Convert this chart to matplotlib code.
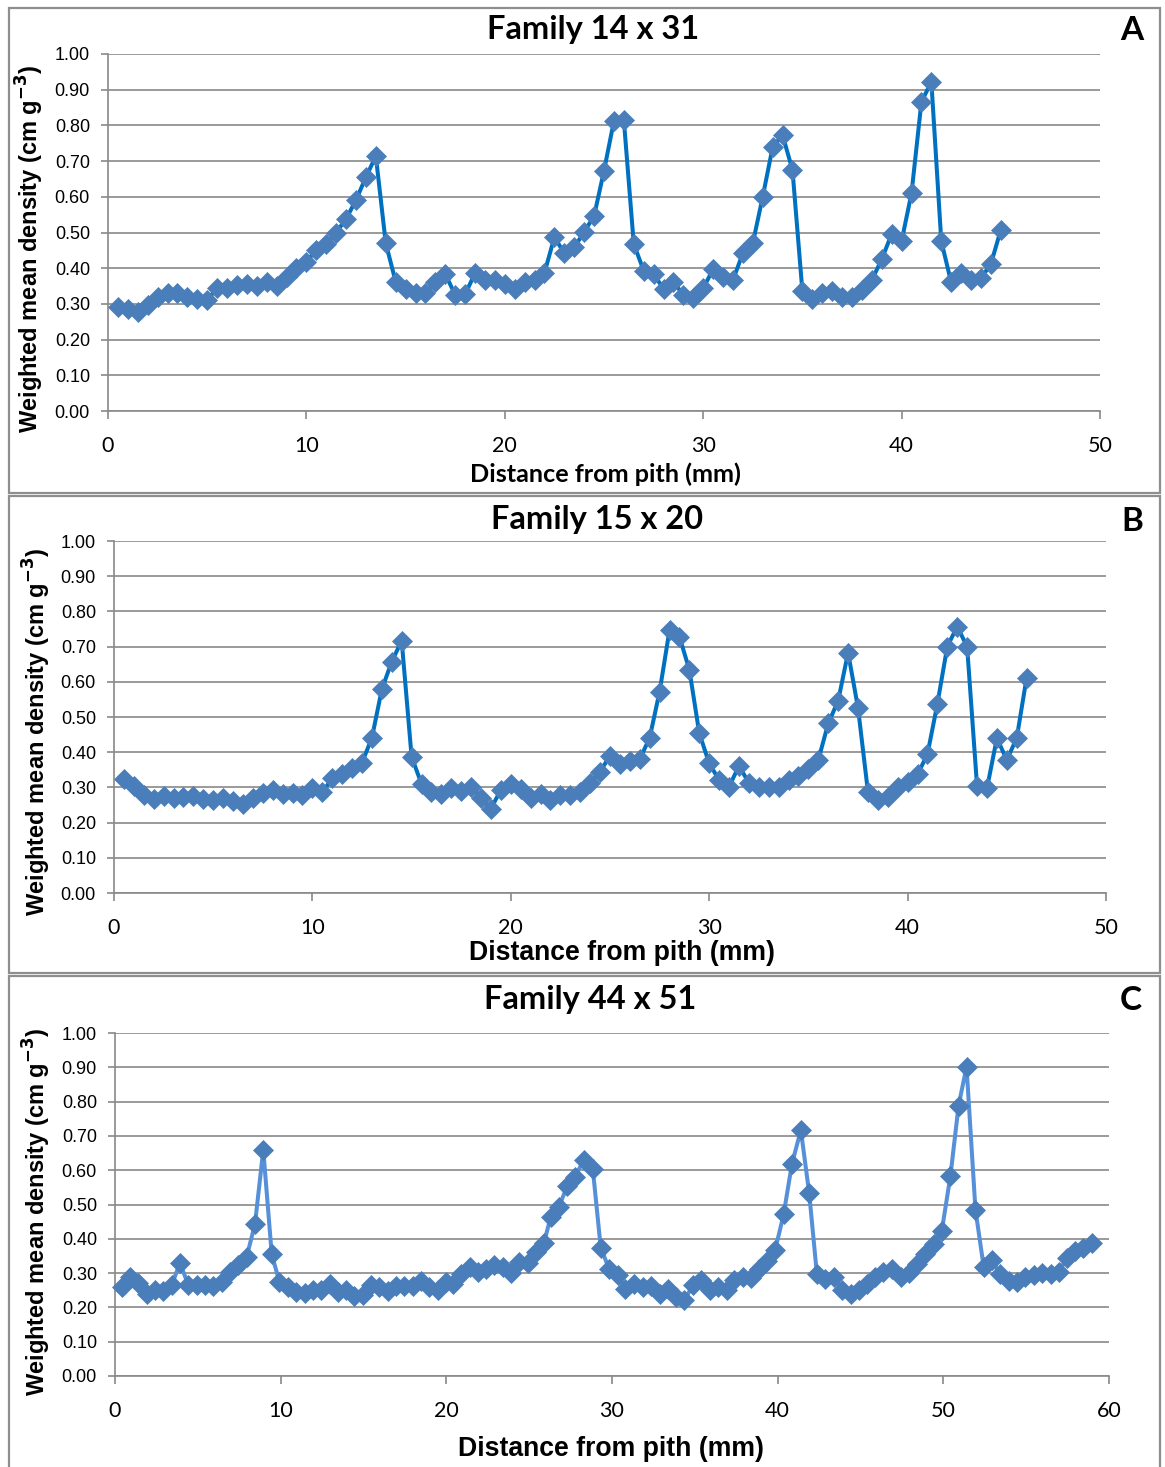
import numpy as np
import matplotlib
matplotlib.use('Agg')
import matplotlib.pyplot as plt
from matplotlib.patches import Rectangle

W, H = 1165, 1467

# ---- panel A: Family 14 x 31 ----
dist_a = [0.5, 1.0, 1.5, 2.0, 2.5, 3.0, 3.5, 4.0, 4.5, 5.0, 5.5, 6.0, 6.5, 7.0, 7.5,
          8.0, 8.5, 9.0, 9.5, 10.0, 10.5, 11.0, 11.5, 12.0, 12.5, 13.0, 13.5, 14.0,
          14.5, 15.0, 15.5, 16.0, 16.5, 17.0, 17.5, 18.0, 18.5, 19.0, 19.5, 20.0,
          20.5, 21.0, 21.5, 22.0, 22.5, 23.0, 23.5, 24.0, 24.5, 25.0, 25.5, 26.0,
          26.5, 27.0, 27.5, 28.0, 28.5, 29.0, 29.5, 30.0, 30.5, 31.0, 31.5, 32.0,
          32.5, 33.0, 33.5, 34.0, 34.5, 35.0, 35.5, 36.0, 36.5, 37.0, 37.5, 38.0,
          38.5, 39.0, 39.5, 40.0, 40.5, 41.0, 41.5, 42.0, 42.5, 43.0, 43.5, 44.0,
          44.5, 45.0]
dens_a = [0.292, 0.287, 0.278, 0.297, 0.320, 0.330, 0.330, 0.318, 0.313, 0.311,
          0.344, 0.344, 0.353, 0.356, 0.350, 0.362, 0.350, 0.374, 0.400, 0.418,
          0.451, 0.467, 0.500, 0.538, 0.591, 0.655, 0.714, 0.470, 0.362, 0.342,
          0.331, 0.330, 0.360, 0.384, 0.325, 0.327, 0.386, 0.367, 0.368, 0.357,
          0.341, 0.362, 0.367, 0.387, 0.487, 0.442, 0.458, 0.502, 0.546, 0.673,
          0.812, 0.815, 0.468, 0.393, 0.383, 0.343, 0.362, 0.325, 0.316, 0.344,
          0.397, 0.376, 0.367, 0.442, 0.470, 0.600, 0.739, 0.773, 0.675, 0.335,
          0.314, 0.331, 0.336, 0.318, 0.318, 0.339, 0.367, 0.425, 0.496, 0.476,
          0.610, 0.866, 0.922, 0.476, 0.360, 0.386, 0.367, 0.372, 0.412, 0.507]

# ---- panel B: Family 15 x 20 ----
dist_b = [0.5, 1.0, 1.5, 2.0, 2.5, 3.0, 3.5, 4.0, 4.5, 5.0, 5.5, 6.0, 6.5, 7.0, 7.5,
          8.0, 8.5, 9.0, 9.5, 10.0, 10.5, 11.0, 11.5, 12.0, 12.5, 13.0, 13.5, 14.0,
          14.5, 15.0, 15.5, 16.0, 16.5, 17.0, 17.5, 18.0, 18.5, 19.0, 19.5, 20.0,
          20.5, 21.0, 21.5, 22.0, 22.5, 23.0, 23.5, 24.0, 24.5, 25.0, 25.5, 26.0,
          26.5, 27.0, 27.5, 28.0, 28.5, 29.0, 29.5, 30.0, 30.5, 31.0, 31.5, 32.0,
          32.5, 33.0, 33.5, 34.0, 34.5, 35.0, 35.5, 36.0, 36.5, 37.0, 37.5, 38.0,
          38.5, 39.0, 39.5, 40.0, 40.5, 41.0, 41.5, 42.0, 42.5, 43.0, 43.5, 44.0,
          44.5, 45.0, 45.5, 46.0]
dens_b = [0.323, 0.305, 0.278, 0.268, 0.276, 0.270, 0.273, 0.275, 0.266, 0.264,
          0.270, 0.260, 0.252, 0.270, 0.283, 0.294, 0.280, 0.284, 0.278, 0.297,
          0.286, 0.326, 0.337, 0.354, 0.370, 0.441, 0.579, 0.657, 0.717, 0.387,
          0.310, 0.288, 0.282, 0.297, 0.290, 0.300, 0.270, 0.240, 0.293, 0.310,
          0.295, 0.270, 0.280, 0.265, 0.278, 0.278, 0.288, 0.312, 0.345, 0.390,
          0.366, 0.376, 0.380, 0.441, 0.572, 0.747, 0.728, 0.634, 0.454, 0.368,
          0.321, 0.302, 0.361, 0.313, 0.302, 0.300, 0.302, 0.321, 0.333, 0.351,
          0.378, 0.482, 0.546, 0.683, 0.526, 0.288, 0.264, 0.274, 0.302, 0.316,
          0.337, 0.394, 0.537, 0.700, 0.757, 0.700, 0.304, 0.297, 0.440, 0.378,
          0.440, 0.612]

# ---- panel C: Family 44 x 51 ----
dist_c = [0.40, 0.90, 1.41, 1.95, 2.41, 2.92, 3.42, 3.92, 4.43, 4.93, 5.43, 5.93,
          6.44, 6.94, 7.44, 7.95, 8.45, 8.95, 9.46, 9.92, 10.42, 10.95, 11.45, 11.95,
          12.45, 12.96, 13.46, 13.97, 14.45, 14.95, 15.45, 15.95, 16.46, 16.96,
          17.46, 17.97, 18.47, 18.97, 19.47, 19.98, 20.40, 20.90, 21.40, 21.90,
          22.40, 22.90, 23.40, 23.90, 24.40, 24.90, 25.40, 25.90, 26.30, 26.80,
          27.30, 27.76, 28.30, 28.84, 29.32, 29.82, 30.36, 30.79, 31.33, 31.87,
          32.37, 32.91, 33.39, 33.89, 34.36, 34.90, 35.40, 35.94, 36.42, 36.92,
          37.39, 37.89, 38.37, 38.87, 39.34, 39.84, 40.36, 40.86, 41.40, 41.90,
          42.37, 42.87, 43.41, 43.89, 44.43, 44.93, 45.41, 45.90, 46.38, 46.88,
          47.42, 47.90, 48.39, 48.87, 49.41, 49.91, 50.43, 50.92, 51.40, 51.94,
          52.44, 52.92, 53.42, 53.96, 54.45, 54.93, 55.47, 55.97, 56.49, 56.99,
          57.45, 57.95, 58.45, 59.00]
dens_c = [0.260, 0.290, 0.270, 0.239, 0.250, 0.249, 0.265, 0.329, 0.265, 0.265,
          0.265, 0.262, 0.275, 0.304, 0.325, 0.348, 0.443, 0.659, 0.355, 0.275,
          0.260, 0.245, 0.243, 0.250, 0.250, 0.267, 0.245, 0.250, 0.233, 0.236,
          0.265, 0.260, 0.248, 0.262, 0.262, 0.262, 0.277, 0.260, 0.250, 0.275,
          0.267, 0.297, 0.318, 0.304, 0.311, 0.323, 0.318, 0.299, 0.333, 0.328,
          0.362, 0.389, 0.464, 0.493, 0.555, 0.580, 0.630, 0.604, 0.374, 0.313,
          0.295, 0.254, 0.267, 0.259, 0.261, 0.240, 0.254, 0.230, 0.222, 0.264,
          0.279, 0.250, 0.259, 0.251, 0.279, 0.288, 0.285, 0.313, 0.335, 0.366,
          0.471, 0.618, 0.717, 0.534, 0.296, 0.283, 0.290, 0.250, 0.240, 0.251,
          0.269, 0.288, 0.303, 0.313, 0.288, 0.300, 0.327, 0.356, 0.385, 0.424,
          0.584, 0.788, 0.902, 0.484, 0.317, 0.337, 0.298, 0.278, 0.274, 0.289,
          0.294, 0.300, 0.297, 0.304, 0.345, 0.364, 0.372, 0.389]

titles = ['Family 14 x 31', 'Family 15 x 20', 'Family 44 x 51']
letters = ['A', 'B', 'C']
ylabel = 'Weighted mean density (cm g$^{\\mathbf{-3}}$)'
xlabel = 'Distance from pith (mm)'

GRAY = '#898989'
MARK = '#4a7ebb'
CALIBRI = 'Lato'
ARIAL = 'Liberation Sans'

fig = plt.figure(figsize=(W / 100, H / 100), dpi=100)


def fx(px):
    return px / W


def fy(py):
    return 1 - py / H


# panel frames (left, top, right, bottom) in pixels
frames = [(9, 8, 1160, 493), (9, 496, 1160, 973), (9, 976, 1160, 1470)]
for l, t, r, b in frames:
    fig.patches.append(Rectangle((fx(l), fy(b)), fx(r - l), (b - t) / H,
                                 transform=fig.transFigure, fill=False,
                                 edgecolor='#8e8e8e', linewidth=1.6))

panels = [
    dict(x=dist_a, y=dens_a, box=(108, 54, 1100, 411), xmax=50, line='#0070c0',
         title_xy=(593, 30), letter_xy=(1132, 30), ylab_xy=(30, 249),
         xlab_xy=(605, 474), xlab_font=CALIBRI, xlab_size=18.2),
    dict(x=dist_b, y=dens_b, box=(114, 541, 1106, 893), xmax=50, line='#0070c0',
         title_xy=(597, 520), letter_xy=(1132, 522), ylab_xy=(37, 732),
         xlab_xy=(622, 953), xlab_font=ARIAL, xlab_size=19.2),
    dict(x=dist_c, y=dens_c, box=(115, 1033, 1109, 1376), xmax=60, line='#5590d8',
         title_xy=(590, 1000), letter_xy=(1131, 1001), ylab_xy=(37, 1212),
         xlab_xy=(611, 1449), xlab_font=ARIAL, xlab_size=19.2),
]

for p, title, letter in zip(panels, titles, letters):
    l, t, r, b = p['box']
    ax = fig.add_axes([fx(l), fy(b), fx(r - l), (b - t) / H])
    ax.plot(p['x'], p['y'], color=p['line'], linewidth=2.9, zorder=3,
            marker='D', markersize=9.8, markerfacecolor=MARK,
            markeredgecolor=MARK, markeredgewidth=0.5, clip_on=False)
    ax.set_xlim(0, p['xmax'])
    ax.set_ylim(0, 1.0)
    ax.set_xticks(np.arange(0, p['xmax'] + 1, 10))
    ax.set_yticks(np.arange(0, 1.01, 0.1))
    ax.set_yticklabels([f'{v:.2f}' for v in np.arange(0, 1.01, 0.1)],
                       fontfamily=ARIAL, fontsize=13)
    ax.set_xticklabels([str(v) for v in range(0, p['xmax'] + 1, 10)],
                       fontfamily=CALIBRI, fontsize=15.5)
    ax.yaxis.grid(True, color=GRAY, linewidth=1.2)
    ax.set_axisbelow(True)
    for s in ['top', 'right']:
        ax.spines[s].set_visible(False)
    for s in ['left', 'bottom']:
        ax.spines[s].set_color(GRAY)
        ax.spines[s].set_linewidth(1.2)
    ax.tick_params(axis='y', direction='out', length=5, width=1.2, color=GRAY,
                   pad=8, labelcolor='black')
    ax.tick_params(axis='x', direction='out', length=6, width=1.2, color=GRAY,
                   pad=12, labelcolor='black')

    fig.text(fx(p['title_xy'][0]), fy(p['title_xy'][1]), title, ha='center',
             va='center', fontsize=23.5, fontweight='bold', fontfamily=CALIBRI)
    fig.text(fx(p['letter_xy'][0]), fy(p['letter_xy'][1]), letter, ha='center',
             va='center', fontsize=24, fontweight='bold', fontfamily=CALIBRI)
    fig.text(fx(p['ylab_xy'][0]), fy(p['ylab_xy'][1]), ylabel, ha='center',
             va='center', rotation=90, fontsize=17, fontweight='bold',
             fontfamily=ARIAL)
    fig.text(fx(p['xlab_xy'][0]), fy(p['xlab_xy'][1]), xlabel, ha='center',
             va='center', fontsize=p['xlab_size'], fontweight='bold',
             fontfamily=p['xlab_font'])

fig.savefig('out.png', dpi=100)
